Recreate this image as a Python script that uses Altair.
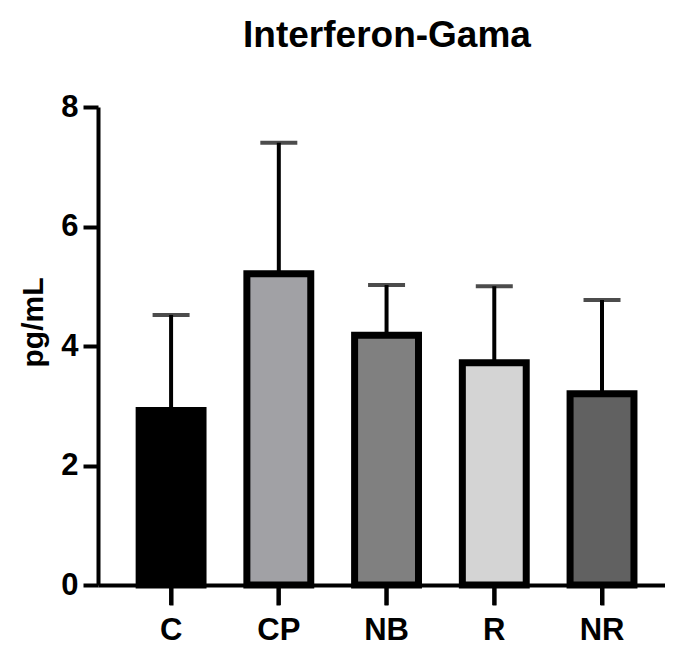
import altair as alt
import pandas as pd

title_text = ["Interferon-Gama"]
groups = ["C", "CP", "NB", "R", "NR"]
means = [2.92, 5.21, 4.18, 3.72, 3.20]
upper = [4.52, 7.40, 5.02, 5.00, 4.77]
fills = ["#000000", "#a1a1a5", "#808080", "#d4d4d4", "#616161"]

df = pd.DataFrame({"group": groups, "mean": means, "upper": upper, "fill": fills})
tdf = pd.DataFrame({"t": title_text})

FONT = "Liberation Sans"
W, H = 567, 478

xscale = alt.Scale(domain=groups, paddingInner=0.407, paddingOuter=0.335, align=0.57)
yscale = alt.Scale(domain=[0, 8], nice=False)

xaxis = alt.Axis(title=None, labelAngle=0, labelAlign="center", ticks=True, tickSize=20,
                 tickWidth=4, tickColor="black", tickOpacity=1, domainWidth=4,
                 domainColor="black", labelFont=FONT, labelFontSize=31, labelFontWeight="bold",
                 labelColor="black", labelPadding=10, zindex=1)
yaxis = alt.Axis(title="pg/mL", values=[0, 2, 4, 6, 8], format="d", ticks=True,
                 tickSize=15, tickWidth=4, tickColor="black", domainWidth=4,
                 domainColor="black", grid=False, labelFont=FONT, labelFontSize=31,
                 labelFontWeight="bold", labelColor="black", labelPadding=5,
                 titleFont=FONT, titleFontSize=30, titleFontWeight="bold",
                 titleColor="black", titleX=-56, titleY=215, titleAngle=270,
                 titleBaseline="alphabetic", titleAlign="center", zindex=1)

x = alt.X("group:N", scale=xscale, sort=groups, axis=xaxis)

bars = alt.Chart(df).mark_bar(stroke="black", strokeWidth=7).encode(
    x=x, y=alt.Y("mean:Q", scale=yscale, axis=yaxis), fill=alt.Fill("fill:N", scale=None))

err = alt.Chart(df).mark_rule(color="black", strokeWidth=4).encode(
    x=x, y=alt.Y("mean:Q", scale=yscale, axis=yaxis), y2="upper:Q")

cap = alt.Chart(df).mark_tick(color="black", thickness=4, size=37, orient="horizontal").encode(
    x=x, y=alt.Y("upper:Q", scale=yscale, axis=yaxis))

# category tick marks below the x axis line
xticks = alt.Chart(df).mark_rule(color="black", strokeWidth=4).encode(
    x=x, y=alt.value(H), y2=alt.value(H + 20))

title = alt.Chart(tdf).mark_text(font=FONT, fontSize=37, fontWeight="bold", color="black",
                                 align="center", baseline="alphabetic").encode(
    text="t:N", x=alt.value(289), y=alt.value(-60))

chart = alt.layer(bars, err, cap, xticks, title).properties(
    width=W, height=H,
    autosize=alt.AutoSizeParams(type="none"),
    padding={"left": 90, "top": 99, "right": 0, "bottom": 60},
).configure_view(stroke=None).configure_axisBand(ticks=True, tickSize=20)

chart.save("out.html", embed_options={"renderer": "svg", "actions": False})
